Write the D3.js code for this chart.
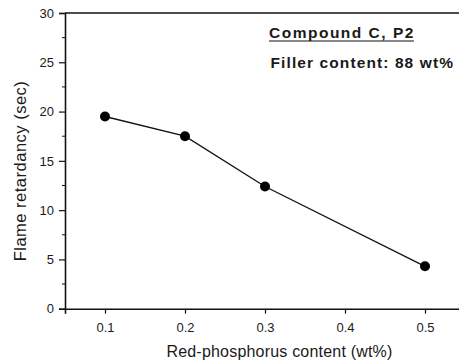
<!DOCTYPE html>
<html><head><meta charset="utf-8">
<script src="https://cdn.jsdelivr.net/npm/d3@7"></script>
<style>body{margin:0;background:#fff}svg{display:block}text{font-family:Arial,"Liberation Sans",sans-serif;fill:#1a1a1a}</style>
</head><body>
<script>
const xValues = [0.1, 0.2, 0.3, 0.5];
const yValues = [19.5, 17.5, 12.4, 4.3];
const xTicks = [0.1, 0.2, 0.3, 0.4, 0.5];
const yTicks = [0, 5, 10, 15, 20, 25, 30];
const yMinorTicks = [2.5, 7.5, 12.5, 17.5, 22.5, 27.5];
const xTitle = "Red-phosphorus content (wt%)";
const yTitle = "Flame retardancy (sec)";
const note1 = "Compound C, P2";
const note2 = "Filler content: 88 wt%";

const W = 459, H = 362;
const svg = d3.select("body").append("svg").attr("width", W).attr("height", H);
const x = d3.scaleLinear().domain([0.05, 0.55]).range([65, 465]);
const y = d3.scaleLinear().domain([0, 30]).range([308.7, 13]);

svg.append("line").attr("x1", 65).attr("x2", 459).attr("y1", y(30)).attr("y2", y(30))
  .attr("stroke", "#111").attr("stroke-width", 1.5);

const yAxis = svg.append("g").attr("transform", "translate(65,0)")
  .call(d3.axisLeft(y).tickValues(yTicks).tickSize(6).tickPadding(5).tickFormat(d3.format("d")));
yAxis.selectAll(".tick text").attr("font-size", 13).style("font-family", "Arial, 'Liberation Sans'");
yAxis.select(".domain").attr("stroke-width", 1.6).attr("stroke", "#111");
yAxis.selectAll(".tick line").attr("stroke", "#111").attr("stroke-width", 1.2);
svg.append("g").selectAll("line").data(yMinorTicks).join("line")
  .attr("x1", 62).attr("x2", 65).attr("y1", d => y(d)).attr("y2", d => y(d))
  .attr("stroke", "#111").attr("stroke-width", 1);

const xAxis = svg.append("g").attr("transform", `translate(0,${y(0)})`)
  .call(d3.axisBottom(x).tickValues(xTicks).tickSize(5).tickPadding(9).tickFormat(d3.format(".1f")));
xAxis.selectAll(".tick text").attr("font-size", 13).style("font-family", "Arial, 'Liberation Sans'");
xAxis.select(".domain").attr("stroke-width", 1.6).attr("stroke", "#111");
xAxis.selectAll(".tick line").attr("stroke", "#111").attr("stroke-width", 1.2);

svg.append("text").attr("x", 279.5).attr("y", 356.5).attr("text-anchor", "middle")
  .attr("font-size", 16).style("letter-spacing", "0.2px").text(xTitle);
svg.append("text").attr("transform", "translate(26,171) rotate(-90)").attr("text-anchor", "middle")
  .attr("font-size", 16.5).style("letter-spacing", "0.5px").text(yTitle);

const pts = xValues.map((v, i) => [v, yValues[i]]);
svg.append("path").datum(pts)
  .attr("d", d3.line().x(d => x(d[0])).y(d => y(d[1])))
  .attr("fill", "none").attr("stroke", "#111").attr("stroke-width", 1.3);
svg.append("g").selectAll("circle").data(pts).join("circle")
  .attr("cx", d => x(d[0])).attr("cy", d => y(d[1])).attr("r", 5).attr("fill", "#000");

svg.append("text").attr("x", 269).attr("y", 38).attr("font-size", 15.5)
  .attr("font-weight", "bold").style("letter-spacing", "1.5px").text(note1);
svg.append("line").attr("x1", 269).attr("x2", 414).attr("y1", 41).attr("y2", 41)
  .attr("stroke", "#111").attr("stroke-width", 1.2);
svg.append("text").attr("x", 270.5).attr("y", 68).attr("font-size", 15.5)
  .attr("font-weight", "bold").style("letter-spacing", "1.1px").text(note2);
</script>
</body></html>
